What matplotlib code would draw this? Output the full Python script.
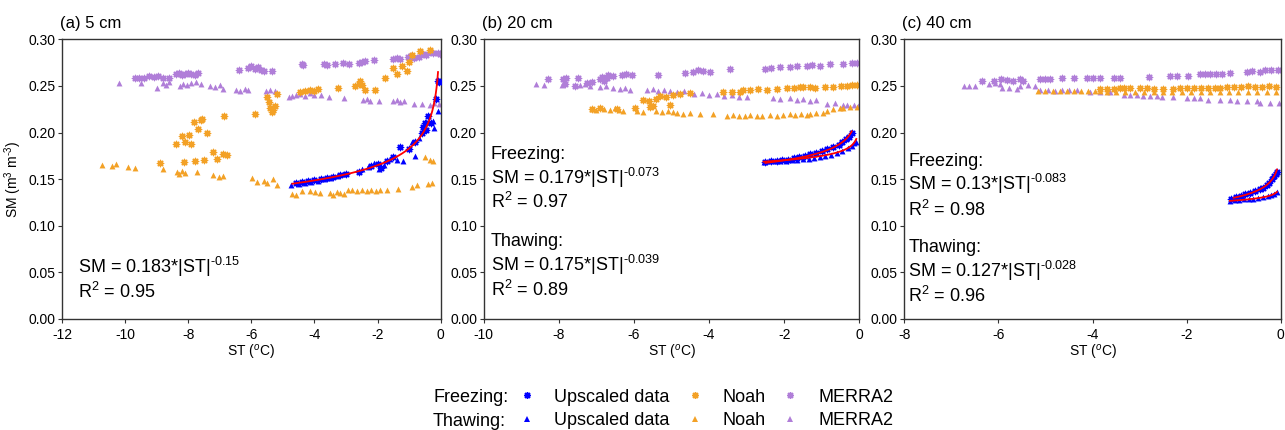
import matplotlib
matplotlib.use("Agg")
import matplotlib.pyplot as plt
from matplotlib.lines import Line2D
import numpy as np

plt.rcParams['font.family'] = ['Liberation Sans', 'DejaVu Sans']
plt.rcParams['mathtext.fontset'] = 'custom'
plt.rcParams['mathtext.rm'] = 'Liberation Sans'
plt.rcParams['mathtext.it'] = 'Liberation Sans:italic'
plt.rcParams['mathtext.bf'] = 'Liberation Sans:bold'
plt.rcParams['axes.unicode_minus'] = False

BLUE = '#0000ff'
ORANGE = '#f3a126'
PURPLE = '#b07ed8'
STAR = (8, 2, 0)

# ---------------- (a) 5 cm ----------------
a_merra_f_x = [-9.7, -9.55, -9.4, -9.25, -9.1, -8.95, -8.8, -8.6, -8.4, -8.3, -8.2, -8.1, -8.0, -7.9, -7.8, -7.7,
               -6.4, -6.1, -6.0, -5.9, -5.8, -5.7, -5.6, -5.35, -4.4, -4.35, -3.7, -3.6, -3.35, -3.1, -2.9,
               -2.6, -2.5, -2.4, -2.1, -1.5, -1.4, -1.3, -1.05, -0.95, -0.85, -0.7, -0.55, -0.45, -0.35, -0.25, -0.1, -0.03]
a_merra_f_y = [0.259, 0.258, 0.259, 0.261, 0.260, 0.261, 0.259, 0.258, 0.263, 0.264, 0.262, 0.263, 0.264, 0.263, 0.262, 0.264,
               0.267, 0.269, 0.271, 0.268, 0.270, 0.267, 0.266, 0.266, 0.273, 0.272, 0.273, 0.272, 0.274, 0.275, 0.274,
               0.275, 0.276, 0.277, 0.278, 0.279, 0.280, 0.279, 0.281, 0.282, 0.280, 0.281, 0.284, 0.283, 0.286, 0.285, 0.285, 0.284]
a_merra_t_x = [-10.2, -9.5, -9.0, -8.8, -8.7, -8.6, -8.25, -8.15, -8.05, -7.9, -7.75, -7.6, -7.3, -7.15, -7.0, -6.9,
               -6.5, -6.35, -6.2, -6.1, -5.55, -5.4, -5.25, -4.8, -4.7, -4.6, -4.45, -4.3, -4.15, -4.0, -3.8, -3.55,
               -3.05, -2.45, -2.35, -2.25, -1.95, -1.5, -1.4, -1.3, -1.15, -0.85, -0.6, -0.35, -0.2, -0.05]
a_merra_t_y = [0.253, 0.253, 0.248, 0.253, 0.251, 0.254, 0.250, 0.252, 0.251, 0.253, 0.254, 0.252, 0.250, 0.249, 0.251, 0.247,
               0.246, 0.245, 0.247, 0.246, 0.245, 0.246, 0.245, 0.238, 0.239, 0.240, 0.241, 0.239, 0.242, 0.240, 0.240, 0.238,
               0.237, 0.235, 0.236, 0.234, 0.234, 0.234, 0.235, 0.233, 0.234, 0.231, 0.231, 0.230, 0.232, 0.231]
a_noah_f_x = [-8.9, -8.38, -8.2, -8.13, -8.1, -7.96, -7.9, -7.83, -7.78, -7.68, -7.6, -7.57, -7.5, -7.39,
              -7.2, -7.1, -6.9, -6.88, -6.78, -5.9, -5.5, -5.45, -5.4, -5.35, -5.3, -5.25, -5.2,
              -4.45, -4.3, -4.15, -4.0, -3.9, -3.24, -2.7, -2.6, -2.55, -2.5, -2.4, -2.08,
              -1.76, -1.52, -1.4, -1.24, -1.08, -1.02, -0.92, -0.65, -0.34]
a_noah_f_y = [0.167, 0.188, 0.196, 0.168, 0.190, 0.197, 0.188, 0.211, 0.169, 0.204, 0.213, 0.215, 0.171, 0.199,
              0.179, 0.172, 0.177, 0.218, 0.176, 0.220, 0.238, 0.233, 0.226, 0.222, 0.224, 0.228, 0.241,
              0.244, 0.245, 0.246, 0.245, 0.247, 0.248, 0.250, 0.252, 0.255, 0.251, 0.246, 0.246,
              0.259, 0.269, 0.263, 0.271, 0.266, 0.276, 0.283, 0.287, 0.289]
a_noah_t_x = [-10.74, -10.4, -10.3, -9.9, -9.7, -8.8, -8.36, -8.3, -8.2, -8.1, -7.73, -7.2, -7.04, -6.9,
              -5.99, -5.83, -5.6, -5.51, -5.3, -5.2, -4.72, -4.6, -4.4, -4.14, -3.98, -3.82,
              -3.5, -3.4, -3.3, -3.18, -3.08, -2.95, -2.8, -2.65, -2.5, -2.35, -2.2, -2.05, -1.92,
              -1.71, -1.34, -0.92, -0.76, -0.39, -0.29, -0.5, -0.34, -0.23]
a_noah_t_y = [0.165, 0.164, 0.166, 0.163, 0.162, 0.161, 0.158, 0.156, 0.159, 0.157, 0.158, 0.154, 0.152, 0.153,
              0.151, 0.147, 0.148, 0.146, 0.150, 0.144, 0.134, 0.133, 0.137, 0.137, 0.136, 0.135,
              0.135, 0.133, 0.136, 0.135, 0.134, 0.138, 0.138, 0.137, 0.138, 0.137, 0.138, 0.137, 0.138,
              0.138, 0.139, 0.142, 0.144, 0.145, 0.146, 0.174, 0.171, 0.169]
a_up_f_x = [-4.6, -4.4, -4.2, -4.0, -3.8, -3.6, -3.4, -3.2, -3.0, -2.6, -2.2, -2.0, -1.9, -1.7, -1.5, -1.3, -1.0,
            -0.8, -0.6, -0.55, -0.5, -0.45, -0.4, -0.3, -0.15, -0.1, -0.05]
a_up_f_y = [0.146, 0.147, 0.148, 0.149, 0.150, 0.151, 0.152, 0.154, 0.156, 0.158, 0.164, 0.166, 0.162, 0.170, 0.174, 0.185, 0.182,
            0.190, 0.199, 0.206, 0.210, 0.203, 0.218, 0.210, 0.236, 0.255, 0.254]
a_up_t_x = [-4.75, -4.5, -4.3, -4.1, -3.9, -3.7, -3.5, -3.3, -3.1, -2.5, -2.3, -2.1, -1.95, -1.8, -1.6, -1.4, -1.2,
            -0.9, -0.8, -0.7, -0.45, -0.25, -0.2, -0.1]
a_up_t_y = [0.144, 0.145, 0.146, 0.147, 0.148, 0.150, 0.151, 0.153, 0.155, 0.161, 0.163, 0.167, 0.161, 0.165, 0.172, 0.171, 0.170,
            0.190, 0.175, 0.194, 0.211, 0.212, 0.205, 0.223]

# ---------------- (b) 20 cm ----------------
b_merra_f_x = [-8.28, -7.88, -7.8, -7.83, -7.48, -7.57, -7.26, -7.12, -6.9, -6.8, -6.73, -6.86, -6.7, -6.55,
               -6.33, -6.2, -6.06, -5.35, -4.64, -4.42, -4.3, -4.15, -3.98, -3.44, -2.5, -2.35, -2.1,
               -1.85, -1.67, -1.4, -1.25, -1.05, -0.78, -0.43, -0.2, -0.05]
b_merra_f_y = [0.257, 0.257, 0.259, 0.252, 0.258, 0.250, 0.253, 0.254, 0.257, 0.255, 0.258, 0.260, 0.262, 0.261,
               0.262, 0.263, 0.262, 0.262, 0.264, 0.265, 0.267, 0.266, 0.265, 0.268, 0.268, 0.269, 0.270,
               0.270, 0.271, 0.271, 0.272, 0.271, 0.273, 0.274, 0.275, 0.275]
b_merra_t_x = [-8.6, -8.4, -7.92, -7.43, -7.3, -7.17, -6.9, -6.75, -6.55, -6.37, -6.25, -6.1, -5.66, -5.5, -5.35, -5.2,
               -5.04, -4.85, -4.68, -4.4, -4.2, -4.0, -3.8, -3.6, -3.4, -3.2, -3.0, -2.3, -2.1, -1.85,
               -1.67, -1.5, -1.3, -1.14, -0.87, -0.65, -0.43, -0.34, -0.15, -0.03]
b_merra_t_y = [0.252, 0.251, 0.251, 0.251, 0.252, 0.250, 0.249, 0.250, 0.248, 0.247, 0.248, 0.246, 0.246, 0.247, 0.245, 0.246,
               0.245, 0.244, 0.245, 0.241, 0.242, 0.240, 0.241, 0.239, 0.240, 0.238, 0.238, 0.237, 0.236, 0.237,
               0.235, 0.236, 0.234, 0.235, 0.231, 0.232, 0.230, 0.229, 0.230, 0.228]
b_noah_f_x = [-7.12, -6.9, -6.46, -5.97, -5.75, -5.6, -5.57, -5.48, -5.4, -5.3, -5.15, -5.04, -4.95, -4.77, -4.5,
              -3.62, -3.4, -3.18, -3.09, -2.9, -2.7, -2.47, -2.2, -1.93, -1.75, -1.58, -1.49, -1.3, -1.18,
              -0.91, -0.69, -0.5, -0.34, -0.2, -0.05]
b_noah_f_y = [0.225, 0.226, 0.225, 0.226, 0.235, 0.234, 0.227, 0.228, 0.236, 0.239, 0.238, 0.229, 0.240, 0.241, 0.242,
              0.243, 0.244, 0.244, 0.246, 0.246, 0.247, 0.246, 0.247, 0.248, 0.248, 0.249, 0.249, 0.249, 0.248,
              0.249, 0.249, 0.250, 0.250, 0.251, 0.251]
b_noah_t_x = [-7.12, -7.0, -6.81, -6.64, -6.5, -6.4, -6.28, -5.93, -5.75, -5.4, -5.25, -5.1, -4.95, -4.86, -4.7, -4.5,
              -4.24, -3.89, -3.53, -3.35, -3.2, -3.05, -2.9, -2.73, -2.6, -2.38, -2.2, -2.02,
              -1.85, -1.7, -1.55, -1.4, -1.31, -1.14, -0.96, -0.87, -0.7, -0.51, -0.43, -0.25, -0.05]
b_noah_t_y = [0.225, 0.224, 0.225, 0.224, 0.226, 0.224, 0.223, 0.223, 0.222, 0.223, 0.222, 0.223, 0.222, 0.221, 0.220, 0.221,
              0.220, 0.220, 0.218, 0.219, 0.218, 0.218, 0.219, 0.218, 0.218, 0.219, 0.218, 0.219,
              0.220, 0.219, 0.220, 0.219, 0.220, 0.221, 0.221, 0.223, 0.225, 0.226, 0.226, 0.227, 0.227]
b_up_f_x = [-2.5, -2.35, -2.2, -2.05, -1.9, -1.75, -1.6, -1.45, -1.3, -1.15, -1.0, -0.85, -0.7, -0.55, -0.45, -0.35, -0.28, -0.2]
b_up_f_y = [0.168, 0.169, 0.170, 0.171, 0.171, 0.173, 0.174, 0.175, 0.177, 0.178, 0.180, 0.182, 0.184, 0.187, 0.190, 0.193, 0.195, 0.199]
b_up_t_x = [-2.55, -2.4, -2.25, -2.1, -1.95, -1.8, -1.65, -1.5, -1.35, -1.2, -1.05, -0.9, -0.75, -0.6, -0.45, -0.3, -0.2, -0.14, -0.1]
b_up_t_y = [0.168, 0.169, 0.169, 0.170, 0.170, 0.171, 0.171, 0.172, 0.172, 0.173, 0.174, 0.175, 0.176, 0.178, 0.180, 0.183, 0.186, 0.189, 0.190]

# ---------------- (c) 40 cm ----------------
c_merra_f_x = [-6.35, -6.1, -5.95, -5.82, -5.68, -5.55, -5.47, -5.11, -5.0, -4.9, -4.65, -4.4, -4.12, -3.98, -3.84,
               -3.55, -3.41, -2.79, -2.35, -2.2, -1.96, -1.71, -1.6, -1.5, -1.38, -1.25, -1.08,
               -0.72, -0.6, -0.44, -0.33, -0.2, -0.05]
c_merra_f_y = [0.2555, 0.255, 0.257, 0.256, 0.2555, 0.257, 0.255, 0.257, 0.257, 0.257, 0.258, 0.258, 0.258, 0.258, 0.258,
               0.259, 0.259, 0.2597, 0.2604, 0.261, 0.2604, 0.263, 0.263, 0.263, 0.263, 0.263, 0.264,
               0.265, 0.2655, 0.265, 0.2668, 0.2668, 0.2668]
c_merra_t_x = [-6.74, -6.62, -6.5, -6.21, -6.08, -5.96, -5.93, -5.77, -5.6, -5.54, -5.38, -5.22,
               -5.11, -4.95, -4.8, -4.65, -4.5, -4.33, -4.05, -3.84, -3.63, -3.34, -3.2, -3.06,
               -2.92, -2.77, -2.63, -2.53, -2.28, -2.0, -1.85, -1.71, -1.54, -1.3, -1.08,
               -0.93, -0.72, -0.51, -0.44, -0.22, -0.03]
c_merra_t_y = [0.250, 0.250, 0.250, 0.252, 0.253, 0.252, 0.2476, 0.248, 0.247, 0.250, 0.251, 0.250,
               0.2455, 0.246, 0.245, 0.2455, 0.246, 0.2455, 0.244, 0.244, 0.244, 0.240, 0.240, 0.240,
               0.2394, 0.2394, 0.2394, 0.2376, 0.2383, 0.2366, 0.2366, 0.2366, 0.2351, 0.2351, 0.2351,
               0.2333, 0.2333, 0.2333, 0.2312, 0.2312, 0.2312]
c_noah_f_x = [-3.84, -3.7, -3.55, -3.41, -3.34, -3.2, -3.0, -2.85, -2.7, -2.5, -2.28,
              -2.14, -2.0, -1.85, -1.7, -1.55, -1.4, -1.29, -1.15, -1.0, -0.85, -0.7, -0.55, -0.4, -0.25, -0.1]
c_noah_f_y = [0.2465, 0.247, 0.2465, 0.2475, 0.2476, 0.248, 0.2476, 0.2476, 0.2465, 0.247, 0.2465,
              0.2476, 0.248, 0.2476, 0.2476, 0.248, 0.2476, 0.2476, 0.249, 0.2485, 0.249, 0.2495, 0.249, 0.249, 0.2495, 0.249]
c_noah_t_x = [-5.15, -5.0, -4.85, -4.7, -4.55, -4.4, -4.25, -4.1, -3.95, -3.84,
              -3.7, -3.5, -3.3, -3.1, -2.9, -2.7, -2.5, -2.3, -2.1, -1.9, -1.7, -1.5, -1.3, -1.1, -0.9, -0.7, -0.5, -0.3, -0.1]
c_noah_t_y = [0.2447, 0.2445, 0.2447, 0.2443, 0.2447, 0.2445, 0.2447, 0.2443, 0.2447, 0.2447,
              0.243, 0.2432, 0.243, 0.2432, 0.243, 0.2432, 0.243, 0.2432, 0.243, 0.2432, 0.243, 0.2432, 0.243, 0.2432,
              0.243, 0.2432, 0.243, 0.2432, 0.243]
c_up_f_x = [-1.05, -0.95, -0.85, -0.75, -0.65, -0.55, -0.45, -0.38, -0.3, -0.24, -0.18, -0.14, -0.1, -0.08]
c_up_f_y = [0.129, 0.131, 0.132, 0.134, 0.135, 0.137, 0.139, 0.141, 0.144, 0.146, 0.150, 0.153, 0.156, 0.158]
c_up_t_x = [-1.08, -0.98, -0.88, -0.78, -0.68, -0.58, -0.48, -0.38, -0.28, -0.2, -0.14, -0.08]
c_up_t_y = [0.127, 0.1275, 0.128, 0.1285, 0.129, 0.129, 0.130, 0.131, 0.132, 0.133, 0.134, 0.136]

# fitted power laws SM = a*|ST|^b  (a, b, ST from, ST to)
a_fit = [(0.183, -0.15, -4.7, -0.085)]
b_fit = [(0.179, -0.073, -2.5, -0.2), (0.175, -0.039, -2.55, -0.08)]
c_fit = [(0.13, -0.083, -1.0, -0.08), (0.127, -0.028, -1.08, -0.08)]

titles = ['(a) 5 cm', '(b) 20 cm', '(c) 40 cm']
xmins = [-12, -10, -8]

# equation labels: (text, y position in axes fraction)
a_eq = [(r'SM = 0.183*|ST|$^{\text{-0.15}}$', 0.163), ('R$^2$ = 0.95', 0.074)]
b_eq = [('Freezing:', 0.572), (r'SM = 0.179*|ST|$^{\text{-0.073}}$', 0.482), ('R$^2$ = 0.97', 0.396),
        ('Thawing:', 0.261), (r'SM = 0.175*|ST|$^{\text{-0.039}}$', 0.172), ('R$^2$ = 0.89', 0.084)]
c_eq = [('Freezing:', 0.548), (r'SM = 0.13*|ST|$^{\text{-0.083}}$', 0.462), ('R$^2$ = 0.98', 0.370),
        ('Thawing:', 0.238), (r'SM = 0.127*|ST|$^{\text{-0.028}}$', 0.149), ('R$^2$ = 0.96', 0.060)]

panels = [
    (a_merra_f_x, a_merra_f_y, a_merra_t_x, a_merra_t_y, a_noah_f_x, a_noah_f_y, a_noah_t_x, a_noah_t_y,
     a_up_f_x, a_up_f_y, a_up_t_x, a_up_t_y, a_fit, a_eq, 0.043),
    (b_merra_f_x, b_merra_f_y, b_merra_t_x, b_merra_t_y, b_noah_f_x, b_noah_f_y, b_noah_t_x, b_noah_t_y,
     b_up_f_x, b_up_f_y, b_up_t_x, b_up_t_y, b_fit, b_eq, 0.019),
    (c_merra_f_x, c_merra_f_y, c_merra_t_x, c_merra_t_y, c_noah_f_x, c_noah_f_y, c_noah_t_x, c_noah_t_y,
     c_up_f_x, c_up_f_y, c_up_t_x, c_up_t_y, c_fit, c_eq, 0.011),
]

fig = plt.figure(figsize=(12.85, 4.3), dpi=100)
lefts = [62, 483.7, 904.3]
rights = [440.7, 859.3, 1280.7]
top_px, bot_px = 39.3, 319

for i, p in enumerate(panels):
    (mfx, mfy, mtx, mty, nfx, nfy, ntx, nty, ufx, ufy, utx, uty, fits, eqs, eqx) = p
    ax = fig.add_axes([lefts[i] / 1285, 1 - bot_px / 430, (rights[i] - lefts[i]) / 1285, (bot_px - top_px) / 430])

    ax.scatter(mtx, mty, marker='^', s=18, color=PURPLE, linewidths=0, zorder=2)
    ax.scatter(mfx, mfy, marker=STAR, s=20, color=PURPLE, linewidths=1.0, zorder=2)
    ax.scatter(ntx, nty, marker='^', s=18, color=ORANGE, linewidths=0, zorder=2)
    ax.scatter(nfx, nfy, marker=STAR, s=20, color=ORANGE, linewidths=1.0, zorder=2)
    ax.scatter(utx, uty, marker='^', s=18, color=BLUE, linewidths=0, zorder=3)
    ax.scatter(ufx, ufy, marker=STAR, s=20, color=BLUE, linewidths=1.0, zorder=3)

    for (ca, cb, x0, x1) in fits:
        xs = np.linspace(x0, x1, 200)
        ax.plot(xs, ca * np.abs(xs) ** cb, color='red', lw=1.3, zorder=4)

    for (txt, ty) in eqs:
        ax.text(eqx, ty, txt, transform=ax.transAxes, fontsize=13, va='baseline', ha='left')

    ax.set_xlim(xmins[i], 0)
    ax.set_ylim(0, 0.30)
    ax.set_xticks(np.arange(xmins[i], 0.1, 2))
    ax.set_yticks(np.arange(0, 0.301, 0.05))
    ax.set_yticklabels(['%.2f' % v for v in np.arange(0, 0.301, 0.05)])
    ax.tick_params(axis='both', direction='out', length=3, width=0.8, labelsize=10, color='#333333')
    ax.tick_params(axis='x', pad=3.5)
    ax.tick_params(axis='y', pad=1.8)
    for s in ax.spines.values():
        s.set_linewidth(1.0)
        s.set_color('#333333')
    ax.set_xlabel('ST ($^{o}$C)', fontsize=10, labelpad=1)
    if i == 0:
        ax.set_ylabel(r'SM (m$^{3}$ m$^{\text{-3}}$)', fontsize=10, labelpad=3)
    ax.text(-0.005, 1.039, titles[i], transform=ax.transAxes, fontsize=12, va='baseline', ha='left')

# legend at bottom
handles = [
    Line2D([], [], linestyle='none', marker=STAR, markersize=5, markeredgewidth=1.0, color=BLUE),
    Line2D([], [], linestyle='none', marker='^', markersize=5, markeredgewidth=0, color=BLUE),
    Line2D([], [], linestyle='none', marker=STAR, markersize=5, markeredgewidth=1.0, color=ORANGE),
    Line2D([], [], linestyle='none', marker='^', markersize=5, markeredgewidth=0, color=ORANGE),
    Line2D([], [], linestyle='none', marker=STAR, markersize=5, markeredgewidth=1.0, color=PURPLE),
    Line2D([], [], linestyle='none', marker='^', markersize=5, markeredgewidth=0, color=PURPLE),
]
labels = ['Upscaled data', 'Upscaled data', 'Noah', 'Noah', 'MERRA2', 'MERRA2']
fig.legend(handles, labels, ncol=3, loc='center left', bbox_to_anchor=(517.5 / 1285, 1 - 408.8 / 430),
           frameon=False, fontsize=13, numpoints=1, handlelength=1.0, handletextpad=1.03,
           columnspacing=0.89, labelspacing=0.36, borderpad=0, borderaxespad=0)
fig.text(433 / 1285, 1 - 402.5 / 430, 'Freezing:', fontsize=13, va='baseline', ha='left')
fig.text(433 / 1285, 1 - 425.5 / 430, 'Thawing:', fontsize=13, va='baseline', ha='left')

fig.savefig('out.png', dpi=100)
